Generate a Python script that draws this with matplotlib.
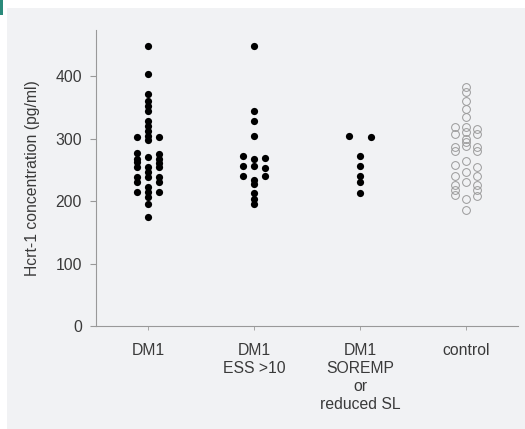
import matplotlib
matplotlib.use("Agg")
import matplotlib.pyplot as plt
from matplotlib.patches import Rectangle

plt.rcParams['font.family'] = ['Liberation Sans', 'DejaVu Sans']

# group labels on the x axis
groups = ["DM1", "DM1\nESS >10", "DM1\nSOREMP\nor\nreduced SL", "control"]

# Hcrt-1 values (pg/ml)
dm1 = [448, 404, 372, 361, 353, 345, 329, 321, 313, 305, 298, 268, 255, 239,
       230, 222, 214, 206, 196, 175,
       302, 275, 268, 261, 254, 246, 239, 230, 214,
       302, 277, 270, 262, 254, 239, 214]
dm1_ess = [448, 344, 329, 304, 273, 253, 233, 227, 213, 204, 196,
           268, 257, 240, 269, 257, 241]
dm1_sorem = [304, 302, 273, 257, 241, 230, 213]
control = [382, 375, 360, 347, 334, 316, 311, 300, 295, 289, 265, 246, 231,
           204, 185,
           319, 307, 286, 281, 255, 241, 225, 217, 208,
           319, 307, 286, 281, 258, 241, 225, 218, 210]

all_groups = [dm1, dm1_ess, dm1_sorem, control]


def swarm_offsets(values, tol=4.0, step=0.1):
    # prism-like: values close together go in one row, spread sideways
    order = sorted(values, reverse=True)
    xs, ys = [], []
    row = []

    def flush(row):
        n = len(row)
        lanes = [0] if n % 2 == 1 else []
        k = 1
        while len(lanes) < n:
            lanes += [-k, k]
            k += 1
        for v, l in zip(row, lanes[:n]):
            xs.append(l * step)
            ys.append(v)

    for v in order:
        if row and row[0] - v > tol:
            flush(row)
            row = []
        row.append(v)
    if row:
        flush(row)
    return xs, ys


fig = plt.figure(figsize=(5.25, 4.29), dpi=100)
fig.patch.set_facecolor('white')
# grey panel behind the chart
fig.patches.append(Rectangle((7 / 525, 0), 1, 1 - 8 / 429, transform=fig.transFigure,
                             facecolor='#f1f2f4', edgecolor='none', zorder=-10))
fig.patches.append(Rectangle((0, 1 - 15 / 429), 3 / 525, 15 / 429, transform=fig.transFigure,
                             facecolor='#2a8a7a', edgecolor='none', zorder=-9))

ax = fig.add_axes([96 / 525, 1 - 326 / 429, (518 - 96) / 525, (326 - 30) / 429])
ax.set_facecolor('none')

for i, vals in enumerate(all_groups):
    dx, yy = swarm_offsets(vals)
    xx = [i + d for d in dx]
    if i < 3:
        ax.plot(xx, yy, 'o', color='black', markersize=5.2, markeredgewidth=0, linestyle='none')
    else:
        ax.plot(xx, yy, 'o', markerfacecolor='none', markeredgecolor='#9a9a9a',
                markersize=5.6, markeredgewidth=0.7, linestyle='none')

ax.set_xlim(-0.49, 3.49)
ax.set_ylim(0, 474)
ax.set_yticks([0, 100, 200, 300, 400])
ax.set_xticks(range(len(groups)))
ax.set_xticklabels(groups, linespacing=1.25)

for s in ['top', 'right']:
    ax.spines[s].set_visible(False)
for s in ['left', 'bottom']:
    ax.spines[s].set_color('#999999')
    ax.spines[s].set_linewidth(0.8)

ax.tick_params(axis='y', colors='#999999', labelcolor='#3a3a3a', labelsize=11.3,
               length=4, width=0.8, pad=6)
ax.tick_params(axis='x', colors='#999999', labelcolor='#3a3a3a', labelsize=11.3,
               length=3, width=0.6, pad=9)
ax.set_ylabel("Hcrt-1 concentration (pg/ml)", color='#3a3a3a', fontsize=11.3, labelpad=11)

fig.savefig('out.png', dpi=100)
